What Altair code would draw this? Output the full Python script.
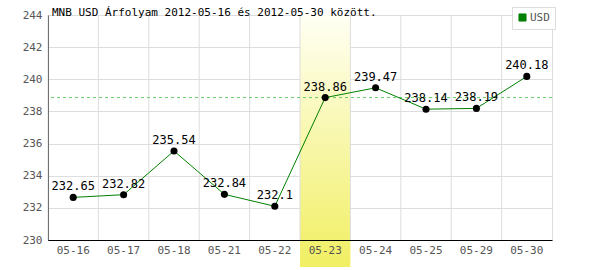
import altair as alt
import pandas as pd

dates = ["05-16", "05-17", "05-18", "05-21", "05-22", "05-23", "05-24", "05-25", "05-29", "05-30"]
values = [232.65, 232.82, 235.54, 232.84, 232.1, 238.86, 239.47, 238.14, 238.19, 240.18]
labels = ["232.65", "232.82", "235.54", "232.84", "232.1", "238.86", "239.47", "238.14", "238.19", "240.18"]
highlight = ["05-23"]
ref_value = [238.86]
series = ["USD"]
yticks = [230, 232, 234, 236, 238, 240, 242, 244]

df = pd.DataFrame({"date": dates, "value": values, "label": labels, "series": series * len(dates)})
hl = pd.DataFrame({"date": highlight})
ref = pd.DataFrame({"v": ref_value})

xscale = alt.Scale(type="band", domain=dates, paddingInner=0, paddingOuter=0)
yscale = alt.Scale(domain=[230, 244], nice=False, zero=False)
MONO = "DejaVu Sans Mono"

xaxis = alt.Axis(title=None, grid=False, ticks=False, domain=True, domainColor="#000000",
                 labelColor="#555555", labelFont=MONO, labelFontSize=11, labelPadding=4,
                 labelAngle=0, labelOverlap=False)
yaxis = alt.Axis(title=None, values=yticks, grid=True,
                 gridColor="#dddddd", ticks=False, domainColor="#000000", labelOverlap=False,
                 labelColor="#555555", labelFont=MONO, labelFontSize=11, labelPadding=6,
                 labelBound=False)

band = alt.Chart(hl).mark_rect(
    fill=alt.Gradient(gradient="linear", x1=0, x2=0, y1=0, y2=1,
                      stops=[alt.GradientStop(color="#fffff4", offset=0),
                             alt.GradientStop(color="#f1ef62", offset=1)]),
    clip=False,
).encode(
    x=alt.X("date:N", scale=xscale, axis=xaxis),
    y=alt.value(0), y2=alt.value(252),
)

vgrid = alt.Chart(df).mark_rule(color="#dddddd", strokeWidth=1).encode(
    x=alt.X("date:N", scale=xscale, bandPosition=0, axis=xaxis),
    y=alt.value(0), y2=alt.value(225),
)

refline = alt.Chart(ref).mark_rule(stroke="#66cc66", strokeDash=[3, 3], strokeWidth=1,
                                   opacity=1).encode(
    y=alt.Y("v:Q", scale=yscale, axis=yaxis),
)

line = alt.Chart(df).mark_line(strokeWidth=1).encode(
    x=alt.X("date:N", scale=xscale, bandPosition=0.5, axis=xaxis),
    y=alt.Y("value:Q", scale=yscale, axis=yaxis),
    stroke=alt.Stroke("series:N", scale=alt.Scale(domain=series, range=["#008000"]),
                      legend=alt.Legend(title=None, orient="none", legendX=464, legendY=-8,
                                        symbolType="square", symbolSize=50,
                                        symbolFillColor="#008000", symbolStrokeColor="#005000",
                                        symbolStrokeWidth=1,
                                        labelFont=MONO, labelFontSize=11, labelColor="#555555",
                                        strokeColor="#dddddd", fillColor="#ffffff", padding=5,
                                        labelOffset=2)),
)

points = alt.Chart(df).mark_circle(size=50, color="#000000", opacity=1).encode(
    x=alt.X("date:N", scale=xscale, bandPosition=0.5, axis=xaxis),
    y=alt.Y("value:Q", scale=yscale, axis=yaxis),
)

text = alt.Chart(df).mark_text(dy=-11, font=MONO, fontSize=12, color="#000000").encode(
    x=alt.X("date:N", scale=xscale, bandPosition=0.5, axis=xaxis),
    y=alt.Y("value:Q", scale=yscale, axis=yaxis),
    text="label:N",
)

chart = alt.layer(band, vgrid, refline, line, points, text).properties(
    width=504, height=225,
    autosize=alt.AutoSizeParams(type="none"),
    padding={"left": 48, "top": 15, "right": 48, "bottom": 30},
    title=alt.Title("MNB USD Árfolyam 2012-05-16 és 2012-05-30 között.", anchor="start",
                    frame="group", font=MONO, fontSize=11, fontWeight="normal",
                    color="#000000", offset=0, dx=4, dy=11),
).configure_view(stroke="#dddddd")

chart.save("out.html", embed_options={"renderer": "svg", "actions": False})
